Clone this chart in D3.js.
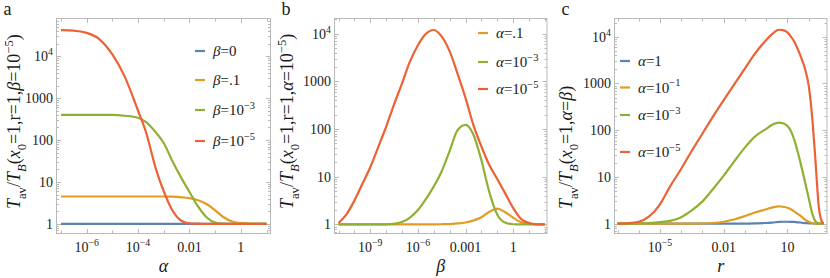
<!DOCTYPE html>
<html lang="en">
<head>
<meta charset="utf-8" />
<script src="https://cdn.jsdelivr.net/npm/d3@7"></script>
<style>
  body { margin: 0; background: #fff; }
  text { font-family: "Liberation Serif", "Times New Roman", serif; fill: #1a1a1a; }
</style>
</head>
<body>
<svg id="chart" width="830" height="278"></svg>
<script>
// ---- panel a : vs alpha ----
const aAlpha = [1e-7, 3e-7, 1e-6, 3e-6, 1e-5, 3e-5, 1e-4, 2e-4, 5e-4, 1e-3, 2e-3, 5e-3,
                0.01, 0.02, 0.05, 0.1, 0.2, 0.5, 1, 2, 5, 10];
const aBeta0 = [1, 1, 1, 1, 1, 1, 1, 1, 1, 1, 1, 1, 1, 1, 1, 1, 1, 1, 1, 1, 1, 1];
const aBeta1 = [4.5, 4.5, 4.5, 4.5, 4.5, 4.5, 4.5, 4.5, 4.5, 4.5, 4.45, 4.3,
                4.1, 3.7, 2.9, 2.1, 1.48, 1.12, 1.04, 1.01, 1, 1];
const aBeta3 = [400, 400, 400, 400, 398, 380, 340, 270, 150, 85, 35, 12,
                5.8, 2.8, 1.38, 1.07, 1.01, 1, 1, 1, 1, 1];
const aBeta5 = [42000, 41000, 36000, 26000, 11000, 3300, 500, 160, 20, 6.0, 2.3, 1.17,
                1.03, 1.01, 1, 1, 1, 1, 1, 1, 1, 1];

// ---- panel b : vs beta ----
const bBeta = [1e-11, 3e-11, 1e-10, 3e-10, 1e-9, 3e-9, 1e-8, 3e-8, 1e-7, 3e-7, 1e-6, 3e-6,
               1e-5, 3e-5, 1e-4, 3e-4, 1e-3, 3e-3, 0.01, 0.03, 0.1, 0.3, 1, 3, 10, 30, 100];
const bAlpha1 = [1, 1, 1, 1, 1, 1, 1, 1, 1, 1, 1, 1,
                 1.005, 1.01, 1.02, 1.05, 1.1, 1.2, 1.41, 1.82, 2.14, 1.82, 1.38, 1.12, 1.03, 1.005, 1];
const bAlpha3 = [1, 1, 1, 1, 1, 1, 1.007, 1.035, 1.12, 1.38, 2.0, 3.3,
                 6.3, 12.6, 35, 93, 123, 79, 22, 5.0, 1.6, 1.1, 1.01, 1, 1, 1, 1];
const bAlpha5 = [1.07, 1.58, 3.16, 6.8, 15.8, 40, 112, 316, 912, 2510, 5750, 9770,
                 12000, 8900, 4270, 1510, 447, 126, 43, 18, 8.9, 4.6, 2.2, 1.32, 1.07, 1.01, 1];

// ---- panel c : vs r ----
const cR = [1e-7, 3e-7, 1e-6, 3e-6, 1e-5, 3e-5, 1e-4, 3e-4, 1e-3, 3e-3, 0.01, 0.03, 0.1, 0.3,
            1, 2, 4, 6, 10, 15, 20, 30, 40, 70, 100, 150, 200, 300, 400, 500];
const cAlpha0 = [1, 1, 1, 1, 1, 1, 1, 1, 1, 1, 1, 1, 1.005, 1.015,
                 1.035, 1.06, 1.09, 1.1, 1.1, 1.095, 1.09, 1.07, 1.06, 1.03, 1.02, 1.008, 1.003, 1, 1, 1];
const cAlpha1 = [1, 1, 1, 1, 1, 1, 1, 1, 1.01, 1.035, 1.1, 1.23, 1.45, 1.74,
                 2.04, 2.24, 2.34, 2.3, 2.19, 2.02, 1.86, 1.62, 1.48, 1.2, 1.1, 1.02, 1.007, 1, 1, 1];
const cAlpha3 = [1, 1, 1.01, 1.035, 1.08, 1.15, 1.38, 1.9, 3.0, 5.4, 10.7, 21, 43, 74,
                 107, 132, 145, 141, 123, 93, 66, 35, 21, 7.1, 3.5, 1.58, 1.15, 1.01, 1, 1];
const cAlpha5 = [1, 1.02, 1.1, 1.41, 2.6, 6.3, 15, 35, 85, 190, 440, 930, 2100, 4400,
                 8500, 11700, 14100, 13800, 12300, 9800, 8100, 5500, 4000, 1900, 890, 160, 28, 2.2, 1.15, 1];

// ---- ticks ----
const yTicks = [1, 10, 100, 1000, 1e4];
const yLabels = ["1", "10", "100", "1000", "10^4"];
const aXTicks = [1e-6, 1e-4, 0.01, 1];
const aXLabels = ["10^−6", "10^−4", "0.01", "1"];
const bXTicks = [1e-9, 1e-6, 1e-3, 1];
const bXLabels = ["10^−9", "10^−6", "0.001", "1"];
const cXTicks = [1e-5, 0.01, 10];
const cXLabels = ["10^−5", "0.01", "10"];

const colors = { blue: "#5e81b5", orange: "#e19c24", green: "#8fb032", red: "#eb6235" };

const panels = [
  {
    letter: "a", x0: 56.5, x1: 270.5, range: [61, 266.5], xs: aAlpha, xTicks: aXTicks, xLabels: aXLabels,
    yLog: [-0.23, 4.9], xTitle: "α", titleX: 14,
    yTitle: [["T", "i"], ["av", "sub"], ["/"], ["T", "i"], ["B", "isub"], ["("], ["x", "i"], ["0", "sub"],
             ["=1,r=1,"], ["β", "i"], ["=10"], ["−5", "sup"], [")"]],
    series: [
      { ys: aBeta0, color: colors.blue, label: "β=0" },
      { ys: aBeta1, color: colors.orange, label: "β=.1" },
      { ys: aBeta3, color: colors.green, label: "β=10^−3" },
      { ys: aBeta5, color: colors.red, label: "β=10^−5" }
    ],
    legend: { x: 195, rows: [51, 80, 110, 141] }
  },
  {
    letter: "b", x0: 334.5, x1: 547, range: [338.5, 545], xs: bBeta, xTicks: bXTicks, xLabels: bXLabels,
    yLog: [-0.19, 4.32], xTitle: "β", titleX: 287,
    yTitle: [["T", "i"], ["av", "sub"], ["/"], ["T", "i"], ["B", "isub"], ["("], ["x", "i"], ["0", "sub"],
             ["=1,r=1,"], ["α", "i"], ["=10"], ["−5", "sup"], [")"]],
    series: [
      { ys: bAlpha1, color: colors.orange, label: "α=.1" },
      { ys: bAlpha3, color: colors.green, label: "α=10^−3" },
      { ys: bAlpha5, color: colors.red, label: "α=10^−5" }
    ],
    legend: { x: 478, rows: [33, 62, 89] }
  },
  {
    letter: "c", x0: 614.5, x1: 827, range: [617.5, 823.6], xs: cR, xTicks: cXTicks, xLabels: cXLabels,
    yLog: [-0.21, 4.39], xTitle: "r", titleX: 566,
    yTitle: [["T", "i"], ["av", "sub"], ["/"], ["T", "i"], ["B", "isub"], ["("], ["x", "i"], ["0", "sub"],
             ["=1,"], ["α", "i"], ["="], ["β", "i"], [")"]],
    series: [
      { ys: cAlpha0, color: colors.blue, label: "α=1" },
      { ys: cAlpha1, color: colors.orange, label: "α=10^−1" },
      { ys: cAlpha3, color: colors.green, label: "α=10^−3" },
      { ys: cAlpha5, color: colors.red, label: "α=10^−5" }
    ],
    legend: { x: 620, rows: [61, 87.5, 115, 152] }
  }
];

const frameTop = 18.5, frameBottom = 233.5;
const frameColor = "#b9b9b9";
const svg = d3.select("#chart");

// writes text with italic / sub / sup pieces
function rich(el, parts, size) {
  let shift = 0;
  parts.forEach(([s, kind]) => {
    const t = el.append("tspan").text(s);
    let target = 0;
    if (kind && kind.endsWith("sub")) { target = size * 0.3; t.attr("font-size", size * 0.7); }
    if (kind === "sup") { target = -size * 0.42; t.attr("font-size", size * 0.7); }
    if (kind === "i" || kind === "isub") t.attr("font-style", "italic");
    if (target !== shift) { t.attr("dy", target - shift); shift = target; }
  });
}

// "10^−6" -> parts, "β=10^−3" -> parts with italic greek
function parseLabel(s) {
  const parts = [];
  let rest = s;
  if (/^[αβ]/.test(rest)) { parts.push([rest[0], "i"]); rest = rest.slice(1); }
  const [base, sup] = rest.split("^");
  parts.push([base]);
  if (sup) parts.push([sup, "sup"]);
  return parts;
}

panels.forEach(p => {
  const g = svg.append("g");
  const x = d3.scaleLog().domain([p.xs[0], p.xs[p.xs.length - 1]]).range(p.range);
  const y = d3.scaleLog().domain([10 ** p.yLog[0], 10 ** p.yLog[1]]).range([frameBottom, frameTop]);

  // frame
  g.append("rect")
    .attr("x", p.x0).attr("y", frameTop)
    .attr("width", p.x1 - p.x0).attr("height", frameBottom - frameTop)
    .attr("fill", "none").attr("stroke", frameColor).attr("stroke-width", 1);

  // x ticks on bottom and top, one per decade
  const lo = Math.round(Math.log10(p.xs[0])), hi = Math.floor(Math.log10(p.xs[p.xs.length - 1]) + 1e-9);
  const decades = d3.range(lo, hi + 1).map(e => 10 ** e);
  decades.forEach(v => {
    const labelled = p.xTicks.some(t => Math.abs(Math.log10(t) - Math.log10(v)) < 1e-6);
    const len = labelled ? 4.5 : 3;
    const xx = Math.round(x(v)) + 0.5;
    g.append("line").attr("x1", xx).attr("x2", xx).attr("y1", frameBottom).attr("y2", frameBottom - len)
      .attr("stroke", frameColor);
    g.append("line").attr("x1", xx).attr("x2", xx).attr("y1", frameTop).attr("y2", frameTop + len)
      .attr("stroke", frameColor);
  });
  p.xTicks.forEach((v, i) => {
    const t = g.append("text").attr("x", x(v)).attr("y", 251.5)
      .attr("text-anchor", "middle").attr("font-size", 14);
    rich(t, parseLabel(p.xLabels[i]), 14);
  });

  // y ticks: decades major, 2..9 minor, on left and right
  const yMin = 10 ** p.yLog[0], yMax = 10 ** p.yLog[1];
  for (let e = -1; e <= 5; e++) {
    for (let m = 1; m <= 9; m++) {
      const v = m * 10 ** e;
      if (v < yMin || v > yMax) continue;
      const len = m === 1 ? 4.5 : 2.5;
      const yy = Math.round(y(v)) + 0.5;
      g.append("line").attr("x1", p.x0).attr("x2", p.x0 + len).attr("y1", yy).attr("y2", yy)
        .attr("stroke", frameColor);
      g.append("line").attr("x1", p.x1).attr("x2", p.x1 - len).attr("y1", yy).attr("y2", yy)
        .attr("stroke", frameColor);
    }
  }
  yTicks.forEach((v, i) => {
    const t = g.append("text").attr("x", p.x0 - 3.5).attr("y", y(v)).attr("dy", "0.35em")
      .attr("text-anchor", "end").attr("font-size", 14);
    rich(t, parseLabel(yLabels[i]), 14);
  });

  // curves
  const line = d3.line().x(d => x(d[0])).y(d => y(d[1])).curve(d3.curveMonotoneX);
  p.series.forEach(s => {
    g.append("path")
      .datum(p.xs.map((v, i) => [v, s.ys[i]]))
      .attr("d", line)
      .attr("fill", "none")
      .attr("stroke", s.color)
      .attr("stroke-width", 2.2)
      .attr("stroke-linejoin", "round");
  });

  // legend
  p.series.forEach((s, i) => {
    const ly = p.legend.rows[i];
    g.append("line").attr("x1", p.legend.x).attr("x2", p.legend.x + 10)
      .attr("y1", ly).attr("y2", ly).attr("stroke", s.color).attr("stroke-width", 2.2);
    const t = g.append("text").attr("x", p.legend.x + 18).attr("y", ly).attr("dy", "0.35em")
      .attr("font-size", 15);
    rich(t, parseLabel(s.label), 15);
  });

  // titles
  g.append("text").attr("x", (p.x0 + p.x1) / 2).attr("y", 272)
    .attr("text-anchor", "middle").attr("font-size", 18).attr("font-style", "italic")
    .text(p.xTitle);
  // y title: bottom end sits at the same height in all three panels
  const yt = g.append("text")
    .attr("transform", `translate(${p.titleX},209) rotate(-90)`)
    .attr("text-anchor", "start").attr("dy", "0.35em").attr("font-size", 18);
  rich(yt, p.yTitle, 18);

  g.append("text").attr("x", p.x0 - 53).attr("y", 15).attr("font-size", 18).text(p.letter);
});
</script>
</body>
</html>
